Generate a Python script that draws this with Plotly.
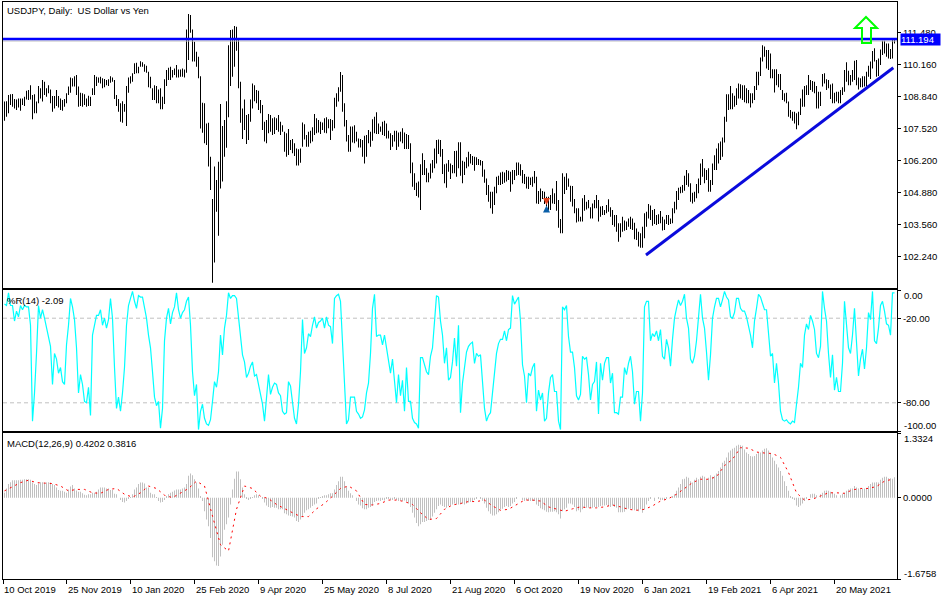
import plotly.graph_objects as go

# USDJPY daily: price bars with Williams %R and MACD panels

tick_labels = ['10 Oct 2019', '25 Nov 2019', '10 Jan 2020', '25 Feb 2020', '9 Apr 2020', '25 May 2020', '8 Jul 2020',
               '21 Aug 2020', '6 Oct 2020', '19 Nov 2020', '6 Jan 2021', '19 Feb 2021', '6 Apr 2021', '20 May 2021']
price_ticks = [111.48, 110.16, 108.84, 107.52, 106.20, 104.88, 103.56, 102.24]

highs = [
    108.63,108.65,108.90,108.93,108.94,108.74,108.72,108.76,108.76,108.76,108.83,109.08,109.11,109.31,108.90,108.93,
    108.63,109.27,109.18,109.52,109.45,109.18,109.31,109.13,108.86,108.86,109.11,108.86,108.76,108.70,108.74,108.97,
    109.25,109.63,109.59,109.68,109.73,109.25,109.00,108.97,108.93,108.76,108.87,108.83,109.18,109.73,109.66,109.63,
    109.66,109.59,109.56,109.52,109.55,109.68,109.63,109.52,108.90,108.74,108.56,108.65,108.53,109.27,109.62,109.68,
    109.80,110.21,110.23,110.07,110.30,110.25,110.17,110.11,109.86,109.66,109.18,109.31,109.27,109.13,109.18,108.83,
    109.55,109.93,110.03,110.07,109.93,110.00,110.14,109.96,109.96,110.00,109.96,111.61,112.24,112.20,111.61,111.10,
    110.69,110.48,109.68,108.58,108.56,107.73,107.76,106.36,104.61,105.95,105.40,106.15,108.53,107.62,107.87,108.65,
    110.96,111.58,111.61,111.75,111.72,111.20,109.45,108.35,108.72,108.08,108.12,108.72,109.38,109.31,109.11,109.08,
    108.70,108.49,107.80,107.87,108.12,108.08,107.94,107.98,107.94,108.08,107.80,107.66,107.39,107.32,107.50,107.05,
    107.09,106.91,106.70,106.66,106.70,107.77,107.70,107.25,107.39,107.43,107.57,108.12,107.94,107.87,107.80,107.77,
    107.94,107.98,107.90,107.91,107.87,108.79,108.97,109.22,109.85,109.73,108.56,107.87,107.25,107.60,107.60,107.66,
    107.39,107.11,107.09,107.05,107.22,107.25,107.46,107.39,107.90,108.01,108.19,107.73,107.60,107.80,107.84,107.73,
    107.43,107.32,107.25,107.43,107.43,107.36,107.39,107.53,107.36,107.29,107.25,106.91,106.12,105.67,105.28,105.33,
    106.05,106.50,106.22,105.88,105.70,106.08,106.22,106.70,107.05,107.07,107.05,106.67,106.05,106.08,106.22,106.08,
    106.01,106.59,106.60,106.95,106.95,106.19,106.15,106.33,106.56,106.47,106.39,106.36,106.33,106.26,106.22,106.18,
    105.83,105.46,105.19,104.91,104.91,105.12,105.53,105.57,105.71,105.74,105.71,105.81,105.78,105.74,105.81,105.81,
    106.12,106.12,106.05,105.81,105.64,105.53,105.53,105.50,105.53,105.77,105.53,104.94,105.05,104.94,104.91,104.71,
    104.71,104.78,105.05,104.85,105.35,104.57,103.79,105.67,105.53,105.67,105.46,105.16,105.15,104.61,104.23,104.23,
    103.88,104.64,104.78,104.50,104.57,104.27,104.43,104.57,104.78,104.57,104.30,104.32,104.16,104.36,104.60,104.27,
    104.16,103.95,103.95,103.61,103.61,103.88,103.72,103.68,103.81,103.88,103.81,103.63,103.40,103.26,103.20,103.47,
    104.02,104.09,104.41,104.34,104.16,104.20,103.95,103.98,104.12,103.88,103.77,103.95,103.95,103.81,104.23,104.50,
    104.94,105.08,105.12,105.19,105.57,105.81,105.67,105.26,104.87,104.91,105.23,105.46,106.08,106.26,105.88,105.81,
    105.88,105.40,106.08,106.42,106.70,106.91,106.98,107.15,108.01,108.93,108.93,109.27,108.97,108.87,109.18,109.38,
    109.35,109.31,109.31,109.18,109.11,108.97,108.97,109.27,109.86,109.86,110.45,110.96,110.90,110.76,110.76,110.62,
    109.97,109.97,109.97,109.77,109.77,109.11,108.97,109.00,108.63,108.28,108.21,108.21,108.15,108.21,108.76,109.13,
    109.27,109.31,109.73,109.52,109.48,109.45,109.27,109.04,109.04,109.77,109.80,109.55,109.52,109.34,109.38,109.00,
    109.04,109.04,109.11,109.22,109.93,110.25,109.90,109.73,109.93,110.32,110.35,109.63,109.59,109.68,109.68,109.86,
    110.11,110.28,110.72,110.83,110.35,110.41,110.78,111.14,111.14,111.03,111.03,110.80,111.17,111.24,
]
lows = [
    107.84,108.01,108.15,108.49,108.42,108.35,108.28,108.39,108.25,108.49,108.45,108.72,108.70,108.72,107.90,108.15,
    108.15,108.56,108.76,108.63,108.90,108.83,108.97,108.56,108.21,108.35,108.45,108.39,108.28,108.25,108.42,108.56,
    108.90,109.00,109.25,109.25,108.90,108.42,108.45,108.42,108.49,108.42,108.45,108.45,108.90,108.90,109.27,109.41,
    109.38,109.18,109.22,109.31,109.27,109.41,109.45,108.74,108.45,108.21,107.80,107.76,108.21,107.62,109.00,109.38,
    109.45,109.77,109.80,109.80,110.07,110.07,109.86,109.82,109.22,109.18,108.70,108.70,108.56,108.56,108.31,108.31,
    108.53,109.27,109.52,109.52,109.63,109.73,109.63,109.63,109.66,109.66,109.63,109.82,110.35,111.47,110.28,110.28,
    110.07,109.59,107.52,107.35,106.91,106.84,105.95,104.98,101.16,101.99,104.09,103.10,105.05,105.33,106.36,106.73,
    107.98,109.27,109.66,110.07,110.73,109.18,107.76,107.09,107.46,106.88,107.05,107.80,108.35,108.65,108.56,108.28,
    108.15,107.46,106.98,106.91,107.32,107.39,107.25,107.29,107.46,107.39,107.25,107.39,106.56,106.36,106.43,106.63,
    106.50,106.39,105.99,105.99,106.11,106.77,107.07,106.77,106.77,106.91,106.98,107.25,107.32,107.36,107.29,107.46,
    107.35,107.32,107.53,107.05,107.43,107.53,108.42,108.63,109.04,108.21,107.60,106.98,106.56,106.56,106.94,106.91,
    106.98,106.74,106.74,106.36,106.08,106.36,106.91,106.77,107.02,107.32,107.29,107.29,107.39,107.25,107.21,107.11,
    107.11,106.63,106.77,106.98,106.63,106.77,106.98,106.91,106.67,106.67,106.67,105.67,105.12,104.98,104.74,104.67,
    104.16,105.60,105.60,105.30,105.30,105.46,105.70,105.88,106.08,106.47,106.36,105.64,105.26,105.08,105.74,105.44,
    105.67,105.67,105.53,105.88,105.57,105.26,105.60,105.88,105.95,106.08,106.01,105.78,106.01,106.01,105.99,105.53,
    105.28,104.78,104.50,104.23,104.00,104.36,104.85,105.19,105.19,105.23,105.28,105.33,105.40,104.91,105.22,105.40,
    105.57,105.60,105.57,105.26,105.23,105.05,105.02,105.19,105.12,105.26,104.43,104.41,104.50,104.61,104.41,104.30,
    104.16,104.16,104.43,104.41,104.13,103.43,103.20,103.20,104.82,104.98,105.12,104.50,104.30,104.02,103.64,103.68,
    103.68,103.68,104.13,104.18,104.23,103.81,103.81,104.23,104.23,103.68,103.88,103.95,103.95,104.02,104.09,103.88,
    103.54,103.47,103.26,102.85,103.03,103.26,103.30,103.33,103.47,103.37,103.33,102.95,102.92,102.65,102.60,102.60,
    102.99,103.47,103.81,103.75,103.51,103.58,103.54,103.58,103.61,103.31,103.33,103.58,103.54,103.58,103.61,104.02,
    104.18,104.57,104.85,104.87,104.95,105.19,105.12,104.50,104.43,104.50,104.64,104.85,105.19,105.53,105.26,105.40,
    104.91,104.91,105.19,105.81,105.81,106.08,106.22,106.36,106.94,107.80,108.28,108.32,108.32,108.42,108.49,108.76,
    108.76,108.70,108.60,108.56,108.56,108.39,108.56,108.70,109.11,109.31,109.69,110.28,110.48,110.00,109.93,109.59,
    109.59,109.01,109.31,109.22,109.11,108.70,108.63,108.56,108.01,107.94,107.84,107.73,107.49,107.66,108.08,108.42,
    108.42,108.90,108.90,109.11,109.04,108.97,108.35,108.35,108.45,109.25,109.38,109.11,109.18,108.74,108.56,108.56,
    108.63,108.56,108.56,108.90,109.04,109.45,109.31,109.31,109.45,109.52,109.31,109.13,109.22,109.22,109.25,109.25,
    109.66,109.56,110.00,110.28,109.66,109.69,110.14,110.55,110.62,110.48,110.41,110.39,110.41,111.03,
]

wpr = [
    -10,-11,-2,-11,-11,-22,-15,-19,-11,-14,-11,-12,-12,-25,-93,-73,
    -45,-11,-20,-14,-20,-27,-32,-40,-67,-45,-49,-59,-55,-65,-67,-39,
    -25,-6,-12,-21,-41,-73,-60,-67,-79,-80,-69,-89,-32,-25,-18,-18,
    -14,-25,-20,-27,-21,-6,-20,-55,-84,-76,-86,-73,-55,-25,-11,-6,
    -1,-8,-13,-4,-5,-5,-13,-20,-32,-41,-58,-76,-82,-79,-98,-84,
    -36,-20,-13,-24,-16,-12,-2,-14,-20,-16,-14,-8,-5,-25,-58,-75,
    -67,-99,-86,-81,-91,-95,-96,-92,-79,-65,-69,-58,-32,-46,-27,-18,
    -2,-6,-4,-4,-6,-19,-34,-46,-51,-62,-59,-54,-51,-61,-60,-67,
    -72,-81,-93,-79,-60,-74,-69,-66,-67,-73,-75,-86,-88,-87,-65,-68,
    -80,-91,-95,-81,-58,-21,-45,-41,-31,-33,-25,-19,-27,-23,-22,-20,
    -27,-19,-25,-26,-38,-6,-4,-3,-8,-41,-69,-95,-92,-76,-76,-76,
    -86,-88,-91,-90,-85,-73,-66,-45,-13,-3,-33,-32,-32,-39,-32,-41,
    -51,-59,-49,-66,-80,-60,-75,-64,-86,-55,-79,-79,-91,-94,-95,-98,
    -48,-48,-53,-58,-60,-47,-41,-22,-4,-5,-22,-32,-52,-41,-64,-62,
    -51,-34,-54,-25,-87,-66,-53,-44,-40,-38,-37,-52,-45,-47,-46,-65,
    -84,-93,-89,-87,-72,-59,-45,-38,-35,-35,-29,-36,-28,-27,-4,-10,
    -7,-5,-22,-53,-61,-80,-59,-61,-55,-52,-86,-71,-78,-73,-93,-91,
    -73,-62,-60,-72,-72,-93,-99,-12,-14,-11,-33,-44,-44,-55,-75,-78,
    -74,-47,-49,-48,-60,-78,-67,-65,-51,-88,-52,-64,-52,-48,-48,-66,
    -59,-87,-87,-88,-76,-76,-55,-60,-52,-47,-58,-81,-72,-72,-93,-73,
    -12,-8,-8,-36,-31,-33,-29,-36,-28,-47,-49,-35,-41,-54,-35,-20,
    -13,-7,-11,-8,-3,-20,-27,-49,-52,-47,-36,-22,-3,-20,-27,-44,
    -64,-46,-20,-12,-6,-6,-12,-7,-1,-5,-7,-19,-20,-16,-6,-6,
    -13,-15,-15,-19,-25,-32,-41,-22,-13,-3,-5,-9,-14,-14,-34,-47,
    -45,-66,-52,-66,-86,-92,-93,-92,-94,-95,-93,-94,-81,-69,-52,-55,
    -32,-24,-28,-18,-22,-28,-45,-48,-40,-1,-13,-22,-45,-62,-46,-71,
    -62,-72,-72,-52,-8,-27,-41,-45,-32,-13,-34,-61,-49,-42,-56,-41,
    -16,-21,-1,-36,-38,-27,-11,-8,-15,-24,-25,-32,-2,-2.09,
]

macd_hist = [
    .10,.19,.28,.32,.36,.36,.36,.36,.37,.37,.38,.38,.38,.37,.31,.28,
    .26,.29,.32,.32,.31,.31,.32,.31,.28,.26,.21,.16,.14,.14,.12,.10,
    .17,.23,.26,.19,.15,.12,.12,.09,.06,.05,.07,.07,.10,.10,.12,.17,
    .21,.21,.21,.19,.19,.16,.16,.08,.07,0,-.05,-.09,-.10,-.07,-.02,.01,
    .07,.17,.21,.28,.31,.31,.29,.21,.21,.10,.07,.07,.01,-.07,-.10,-.09,
    -.05,.03,.07,.10,.12,.15,.17,.17,.17,.19,.21,.28,.45,.50,.46,.38,
    .31,.19,.03,-.07,-.28,-.45,-.59,-.83,-1.23,-1.31,-1.40,-1.41,-1.21,-.97,-.66,-.55,
    -.41,-.14,.17,.39,.54,.54,.38,.21,.07,-.01,-.05,-.01,.01,.05,.07,.05,
    0,-.02,-.10,-.16,-.19,-.21,-.19,-.21,-.21,-.24,-.24,-.24,-.32,-.34,-.37,-.38,
    -.39,-.41,-.48,-.50,-.45,-.38,-.31,-.26,-.24,-.21,-.17,-.14,-.12,-.03,.01,.03,
    .05,.05,.07,.09,.09,.17,.26,.34,.43,.43,.34,.23,.14,.09,.05,0,
    -.07,-.14,-.16,-.22,-.24,-.24,-.21,-.19,-.16,-.09,-.07,-.06,-.07,-.05,-.06,-.03,
    -.01,-.05,-.05,-.03,-.05,-.07,-.06,-.07,-.06,-.08,-.12,-.19,-.31,-.41,-.52,-.59,
    -.55,-.50,-.50,-.48,-.46,-.46,-.39,-.31,-.24,-.17,-.14,-.17,-.19,-.21,-.17,-.16,
    -.14,-.12,-.14,-.14,-.14,-.12,-.14,-.12,-.10,-.09,-.07,-.05,-.01,0,-.02,-.07,
    -.12,-.21,-.28,-.33,-.37,-.37,-.34,-.30,-.24,-.23,-.19,-.17,-.19,-.17,-.12,-.09,
    -.02,0,0,-.05,-.07,-.05,-.07,-.07,-.07,-.07,-.14,-.17,-.22,-.24,-.26,-.29,
    -.30,-.29,-.29,-.28,-.30,-.34,-.43,-.28,-.24,-.21,-.12,-.12,-.14,-.19,-.28,-.26,
    -.30,-.24,-.21,-.21,-.21,-.21,-.21,-.19,-.19,-.19,-.17,-.16,-.16,-.15,-.17,-.19,
    -.16,-.19,-.21,-.30,-.30,-.30,-.29,-.24,-.23,-.23,-.24,-.26,-.26,-.28,-.24,-.31,
    -.24,-.14,-.07,-.01,0,-.07,0,-.02,-.05,-.05,-.05,-.02,0,.01,.03,.07,
    .14,.21,.28,.38,.39,.43,.41,.34,.31,.37,.41,.38,.43,.45,.43,.38,
    .41,.46,.43,.45,.50,.55,.62,.72,.76,.83,.93,.97,1.01,1.03,1.07,1.09,
    1.08,1.07,.99,.93,.90,.86,.85,.86,.90,.92,.93,.97,1.01,1.02,.97,.92,
    .83,.76,.69,.62,.55,.45,.34,.24,.14,.03,-.01,-.05,-.16,-.19,-.16,-.12,
    -.07,-.03,0,.07,.08,.08,.05,0,.07,.10,.14,.15,.14,.12,.10,.08,
    .05,0,.05,.08,.10,.14,.17,.19,.19,.24,.21,.19,.19,.19,.19,.19,
    .24,.28,.31,.31,.32,.31,.37,.41,.43,.43,.40,.40,.39,.42,
]

# signal line, read every 4th bar
macd_signal = [
    .14,.23,.31,.36,.31,.30,.29,.24,.14,.17,.17,.10,.09,.17,.19,.07,.01,.10,.24,.19,
    .05,0,.10,.19,.34,.24,-.38,-.97,-1.10,-.24,.24,.19,.03,-.02,-.14,-.23,-.31,-.39,-.39,-.23,
    -.12,.03,.19,.24,.14,-.14,-.15,-.12,-.05,-.05,-.08,-.14,-.31,-.45,-.43,-.24,-.15,-.12,-.08,-.08,
    -.05,-.17,-.26,-.24,-.14,-.05,-.05,-.07,-.19,-.24,-.28,-.23,-.19,-.21,-.21,-.19,-.15,-.19,-.24,-.26,
    -.24,-.17,-.07,-.02,.07,.19,.31,.38,.38,.43,.66,.79,1.03,1.02,.94,.92,.91,.83,.52,.10,
    -.05,-.03,.03,.10,.10,.09,.16,.19,.19,.23,.34,.38,
]
signal_step = 4

trade_bar = 271
sell_price = 104.36
buy_price = 104.34

resistance = 111.21
last_price = 111.13
last_price_label = '111.194'

FONT = 'Liberation Sans'
FONT_SIZE = 9.5
bars = list(range(len(highs)))
x_range = [-0.75, 446.25]
bar_ranges = [h - l for h, l in zip(highs, lows)]
# first tick sits right on the panel edge
tick_pos = [max(x_range[0], -1 + 32 * k) for k in range(len(tick_labels))]

fig = go.Figure()

# width under 1px keeps plotly from widening the bars to 2px
fig.add_trace(go.Bar(x=bars, y=bar_ranges, base=lows, width=0.45, marker=dict(color='black', line=dict(width=0)),
                     xaxis='x', yaxis='y'))
fig.add_trace(go.Scatter(x=[trade_bar], y=[sell_price], mode='markers',
                         marker=dict(symbol='arrow-down', size=7, color='#E0401C', line=dict(width=0)), xaxis='x', yaxis='y'))
fig.add_trace(go.Scatter(x=[trade_bar], y=[buy_price], mode='markers',
                         marker=dict(symbol='arrow-up', size=7, color='#0A5FA8', line=dict(width=0)), xaxis='x', yaxis='y'))

fig.add_trace(go.Scatter(x=bars, y=wpr, mode='lines', line=dict(color='#00FFFF', width=1.2), xaxis='x2', yaxis='y2'))

fig.add_trace(go.Bar(x=bars, y=macd_hist, width=0.45, marker=dict(color='#C0C0C0', line=dict(width=0)),
                     xaxis='x3', yaxis='y3'))
fig.add_trace(go.Scatter(x=bars[::signal_step], y=macd_signal, mode='lines',
                         line=dict(color='#FF0000', width=1, dash='2px,4px'), xaxis='x3', yaxis='y3'))

axis_style = dict(showline=True, linecolor='black', linewidth=1, mirror=True, showgrid=False, zeroline=False)
x_dom = [3 / 950, 897 / 950]


def y_dom(top, bottom):
    return [1 - bottom / 600, 1 - top / 600]


y_font = dict(family=FONT, size=FONT_SIZE, color='black')

shapes = [
    # horizontal resistance, last price line
    dict(type='line', xref='x', yref='y', x0=x_range[0], x1=x_range[1], y0=last_price, y1=last_price,
         line=dict(color='#C0C0C0', width=1)),
    dict(type='line', xref='x', yref='y', x0=x_range[0], x1=x_range[1], y0=resistance, y1=resistance,
         line=dict(color='#0000FF', width=2.5)),
    # rising trend line
    dict(type='line', xref='x', yref='y', x0=320.75, x1=444.4, y0=102.30, y1=110.03,
         line=dict(color='#0A0ADC', width=3)),
    # green arrow
    dict(type='path', xref='x', yref='y', line=dict(color='#00FF00', width=2),
         path='M430.75 112.12 L436.25 111.67 L433.25 111.67 L433.25 111.05 L428.75 111.05 L428.75 111.67 L425.25 111.67 Z'),
]
for level in (-20, -80):
    shapes.append(dict(type='line', xref='x2', yref='y2', x0=x_range[0], x1=x_range[1], y0=level, y1=level,
                       layer='below', line=dict(color='#C0C0C0', width=1, dash='4px,3px')))


def text_at(px, py, text, color='black', **kw):
    return dict(xref='paper', yref='paper', x=px / 950, y=1 - py / 600, text=text, showarrow=False,
                xanchor='left', yanchor='middle', align='left',
                font=dict(family=FONT, size=FONT_SIZE, color=color), borderpad=0, **kw)


annotations = [
    text_at(6, 10, 'USDJPY, Daily:  US Dollar vs Yen'),
    text_at(6, 300, '%R(14) -2.09'),
    text_at(6, 443, 'MACD(12,26,9) 0.4202 0.3816'),
    # labels MT5 pushes inside the panel edge
    text_at(903, 295, '0.00'),
    text_at(903, 425, '-100.00'),
    text_at(903, 438, '1.3324'),
    text_at(903, 573, '-1.6758'),
    text_at(900, 39.5, last_price_label, color='white', bgcolor='#0000FF', width=39, height=11),
]
for pos, label in zip(tick_pos, tick_labels):
    a = text_at(0, 589, label)
    a.update(xref='x3', x=pos)
    annotations.append(a)

fig.update_layout(
    width=950, height=600, margin=dict(l=0, r=0, t=0, b=0), autosize=False,
    paper_bgcolor='white', plot_bgcolor='white', showlegend=False, barmode='overlay',
    hovermode=False,
    xaxis=dict(domain=x_dom, range=x_range, anchor='y', showticklabels=False, ticks='', **axis_style),
    yaxis=dict(domain=y_dom(2, 288), range=[100.94, 112.74], anchor='x', side='right', tickmode='array',
               tickvals=price_ticks, ticktext=['%.3f' % p for p in price_ticks], ticks='outside', ticklen=3,
               tickcolor='black', tickfont=y_font, **axis_style),
    xaxis2=dict(domain=x_dom, range=x_range, anchor='y2', showticklabels=False, ticks='', **axis_style),
    yaxis2=dict(domain=y_dom(290, 431), range=[-100, 0], anchor='x2', side='right', tickmode='array',
                tickvals=[0, -20, -80, -100], ticktext=['', '-20.00', '-80.00', ''], ticks='outside', ticklen=3,
                tickcolor='black', tickfont=y_font, **axis_style),
    xaxis3=dict(domain=x_dom, range=x_range, anchor='y3', showticklabels=False, tickmode='array', tickvals=tick_pos,
                ticks='outside', ticklen=4, tickcolor='black', **axis_style),
    yaxis3=dict(domain=y_dom(433, 579), range=[-1.6758, 1.3324], anchor='x3', side='right', tickmode='array',
                tickvals=[1.3324, 0, -1.6758], ticktext=['', '0.0000', ''], ticks='outside', ticklen=3,
                tickcolor='black', tickfont=y_font, **axis_style),
    shapes=shapes,
    annotations=annotations,
)

fig.write_html("out.html", config={'displayModeBar': False}, post_script="document.body.style.margin='0';")
